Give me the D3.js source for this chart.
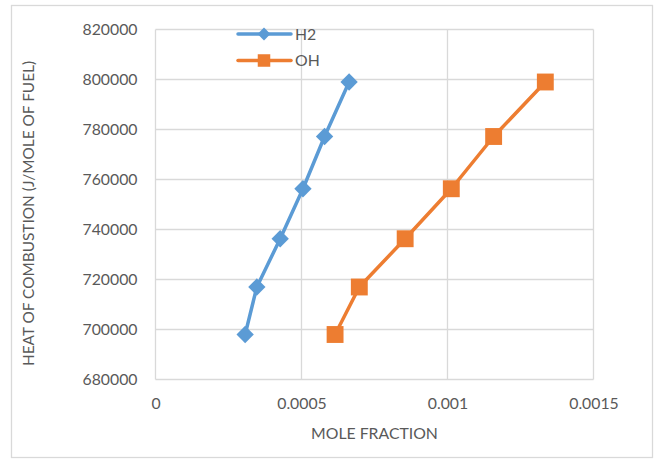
<!DOCTYPE html>
<html>
<head>
<meta charset="utf-8">
<script src="https://cdn.jsdelivr.net/npm/d3@7"></script>
<style>
  html, body { margin: 0; padding: 0; background: #fff; }
  svg { display: block; font-family: Lato, "Open Sans", sans-serif; }
</style>
</head>
<body>
<svg id="chart" width="655" height="459"></svg>
<script>
// Heat of combustion against mole fraction of H2 and OH
const heatValues = [698000, 717000, 736300, 756300, 777200, 799000];
const h2Fraction = [0.000307, 0.000347, 0.000427, 0.000505, 0.000579, 0.000663];
const ohFraction = [0.000615, 0.000698, 0.000855, 0.001013, 0.001158, 0.001335];
const seriesNames = ["H2", "OH"];
const xTicks = [0, 0.0005, 0.001, 0.0015];
const yTicks = [680000, 700000, 720000, 740000, 760000, 780000, 800000, 820000];

const colors = { H2: "#5B9BD5", OH: "#ED7D31" };
const gridColor = "#D9D9D9";
const textColor = "#595959";

const svg = d3.select("#chart");

// chart frame
svg.append("rect")
  .attr("x", 11.5).attr("y", 5.5)
  .attr("width", 641).attr("height", 452)
  .attr("fill", "#fff").attr("stroke", gridColor).attr("stroke-width", 1.3);

const plot = { left: 155.5, right: 593.5, top: 29.5, bottom: 379.5 };

const x = d3.scaleLinear().domain([0, 0.0015]).range([plot.left, plot.right]);
const y = d3.scaleLinear().domain([680000, 820000]).range([plot.bottom, plot.top]);

// gridlines
const grid = svg.append("g");
grid.selectAll("line.h").data(yTicks).join("line")
  .attr("x1", plot.left).attr("x2", plot.right)
  .attr("y1", d => y(d)).attr("y2", d => y(d))
  .attr("stroke", gridColor).attr("stroke-width", 1.3);
grid.selectAll("line.v").data(xTicks).join("line")
  .attr("y1", plot.top).attr("y2", plot.bottom)
  .attr("x1", d => x(d)).attr("x2", d => x(d))
  .attr("stroke", gridColor).attr("stroke-width", 1.3);

// axes (labels only; lines come from the grid)
const fmt = d => String(d);
const yAxis = d3.axisLeft(y).tickValues(yTicks).tickFormat(fmt).tickSize(0).tickPadding(18);
const gy = svg.append("g").attr("transform", `translate(${plot.left},0)`).call(yAxis);
const xAxis = d3.axisBottom(x).tickValues(xTicks).tickFormat(fmt).tickSize(0).tickPadding(18);
const gx = svg.append("g").attr("transform", `translate(0,${plot.bottom})`).call(xAxis);
[gx, gy].forEach(g => {
  g.select(".domain").remove();
  g.selectAll("text").attr("fill", textColor).style("font-size", "15.8px")
    .style("font-family", "Lato, 'Open Sans', sans-serif");
});

// axis titles
svg.append("text")
  .attr("x", (plot.left + plot.right) / 2).attr("y", 439)
  .attr("text-anchor", "middle").attr("fill", textColor)
  .style("font-size", "15.8px").text("MOLE FRACTION");
svg.append("text")
  .attr("transform", `translate(34,${(plot.top + plot.bottom) / 2 + 9}) rotate(-90)`)
  .attr("text-anchor", "middle").attr("fill", textColor)
  .style("font-size", "15.4px").text("HEAT OF COMBUSTION (J/MOLE OF FUEL)");

// series
const series = [
  { name: seriesNames[0], xs: h2Fraction, size: 150, rotate: 45 },
  { name: seriesNames[1], xs: ohFraction, size: 285, rotate: 0 }
];
const line = d3.line().x(d => x(d[0])).y(d => y(d[1]));

series.forEach(s => {
  const pts = s.xs.map((v, i) => [v, heatValues[i]]);
  const g = svg.append("g");
  g.append("path").datum(pts).attr("d", line)
    .attr("fill", "none").attr("stroke", colors[s.name])
    .attr("stroke-width", 3.5).attr("stroke-linejoin", "round");
  g.selectAll("path.m").data(pts).join("path")
    .attr("class", "m")
    .attr("d", d3.symbol(d3.symbolSquare, s.size))
    .attr("transform", d => `translate(${x(d[0])},${y(d[1])}) rotate(${s.rotate})`)
    .attr("fill", colors[s.name]);
});

// legend
const legend = svg.append("g");
series.forEach((s, i) => {
  const ly = 34 + i * 26.5;
  legend.append("line").attr("x1", 238).attr("x2", 291).attr("y1", ly).attr("y2", ly)
    .attr("stroke", colors[s.name]).attr("stroke-width", 3.5).attr("stroke-linecap", "round");
  legend.append("path")
    .attr("d", d3.symbol(d3.symbolSquare, s.size * 0.55))
    .attr("transform", `translate(264,${ly}) rotate(${s.rotate})`)
    .attr("fill", colors[s.name]);
  legend.append("text").attr("x", 295).attr("y", ly + 5.5)
    .attr("fill", textColor).style("font-size", "15.8px").text(s.name);
});
</script>
</body>
</html>
